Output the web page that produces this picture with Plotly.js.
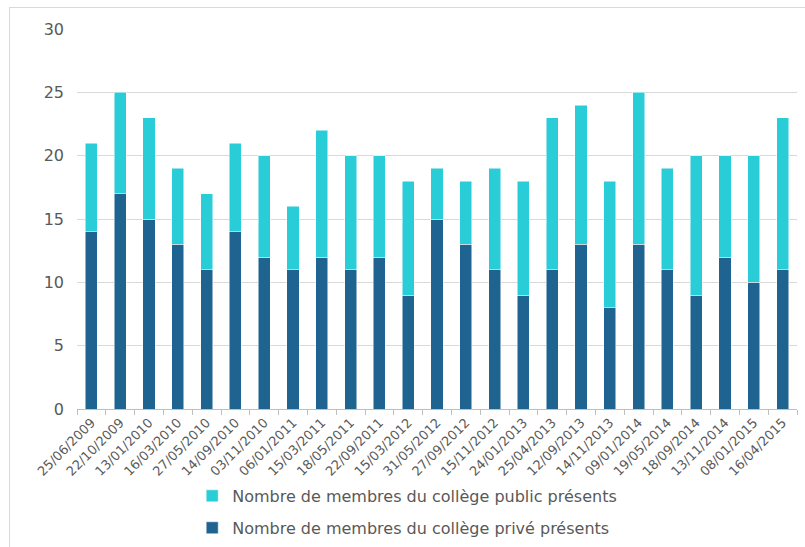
<!DOCTYPE html>
<html>
<head>
<meta charset="utf-8">
<script src="https://cdn.plot.ly/plotly-3.0.1.min.js"></script>
<style>
  html, body { margin: 0; padding: 0; background: #ffffff; overflow: hidden; }
  #frame { position: absolute; left: 9px; top: 7px; width: 900px; height: 700px;
           border-left: 1px solid #d9d9d9; border-top: 1px solid #d9d9d9; pointer-events: none; }
  #chart { position: absolute; left: 0; top: 0; width: 805px; height: 547px; }
</style>
</head>
<body>
<div id="chart"></div>
<div id="frame"></div>
<script>
// Meeting dates
const dates = ["25/06/2009","22/10/2009","13/01/2010","16/03/2010","27/05/2010","14/09/2010",
  "03/11/2010","06/01/2011","15/03/2011","18/05/2011","22/09/2011","15/03/2012","31/05/2012",
  "27/09/2012","15/11/2012","24/01/2013","25/04/2013","12/09/2013","14/11/2013","09/01/2014",
  "19/05/2014","18/09/2014","13/11/2014","08/01/2015","16/04/2015"];

// Members present per college
const prive  = [14,17,15,13,11,14,12,11,12,11,12, 9,15,13,11, 9,11,13, 8,13,11, 9,12,10,11];
const public_ = [ 7, 8, 8, 6, 6, 7, 8, 5,10, 9, 8, 9, 4, 5, 8, 9,12,11,10,12, 8,11, 8,10,12];

const yTicks = [0,5,10,15,20,25,30];

const fontFam = "DejaVu Sans, sans-serif";
const grey = "#595959";

const traces = [
  {
    type: "bar", x: dates, y: prive,
    name: "Nombre de membres du collège privé présents",
    marker: { color: "#1f6391", line: { color: "#ffffff", width: 0.5 } },
    legend: "legend2"
  },
  {
    type: "bar", x: dates, y: public_,
    name: "Nombre de membres du collège public présents",
    marker: { color: "#29cdd8", line: { color: "#ffffff", width: 0.5 } },
    legend: "legend"
  }
];

const legendBase = {
  orientation: "v", xanchor: "left", yanchor: "top",
  font: { family: fontFam, size: 16, color: grey },
  bgcolor: "rgba(0,0,0,0)", itemclick: false
};

const layout = {
  width: 805, height: 547,
  margin: { l: 77, r: 8, t: 29, b: 138, autoexpand: false },
  paper_bgcolor: "#ffffff", plot_bgcolor: "#ffffff",
  barmode: "stack",
  bargap: 0.58,
  font: { family: fontFam, color: grey },
  xaxis: {
    type: "category",
    automargin: false,
    tickangle: -45,
    tickfont: { family: fontFam, size: 13, color: grey },
    showline: true, linecolor: "#bfbfbf", linewidth: 1,
    ticks: "outside", tickson: "boundaries", ticklen: 5, tickcolor: "#bfbfbf",
    showgrid: false, fixedrange: true
  },
  yaxis: {
    automargin: false,
    range: [0, 30],
    tickvals: yTicks,
    ticktext: yTicks.map(String),
    tickfont: { family: fontFam, size: 16, color: grey },
    showgrid: true, gridcolor: "#d9d9d9", gridwidth: 1,
    zeroline: false, showline: false, ticks: "",
    ticklabelstandoff: 12,
    fixedrange: true
  },
  legend: Object.assign({}, legendBase, { x: 0.16, y: -0.184 }),
  legend2: Object.assign({}, legendBase, { x: 0.16, y: -0.268 }),
  showlegend: true
};

Plotly.newPlot("chart", traces, layout, { displayModeBar: false, staticPlot: true });
</script>
</body>
</html>
